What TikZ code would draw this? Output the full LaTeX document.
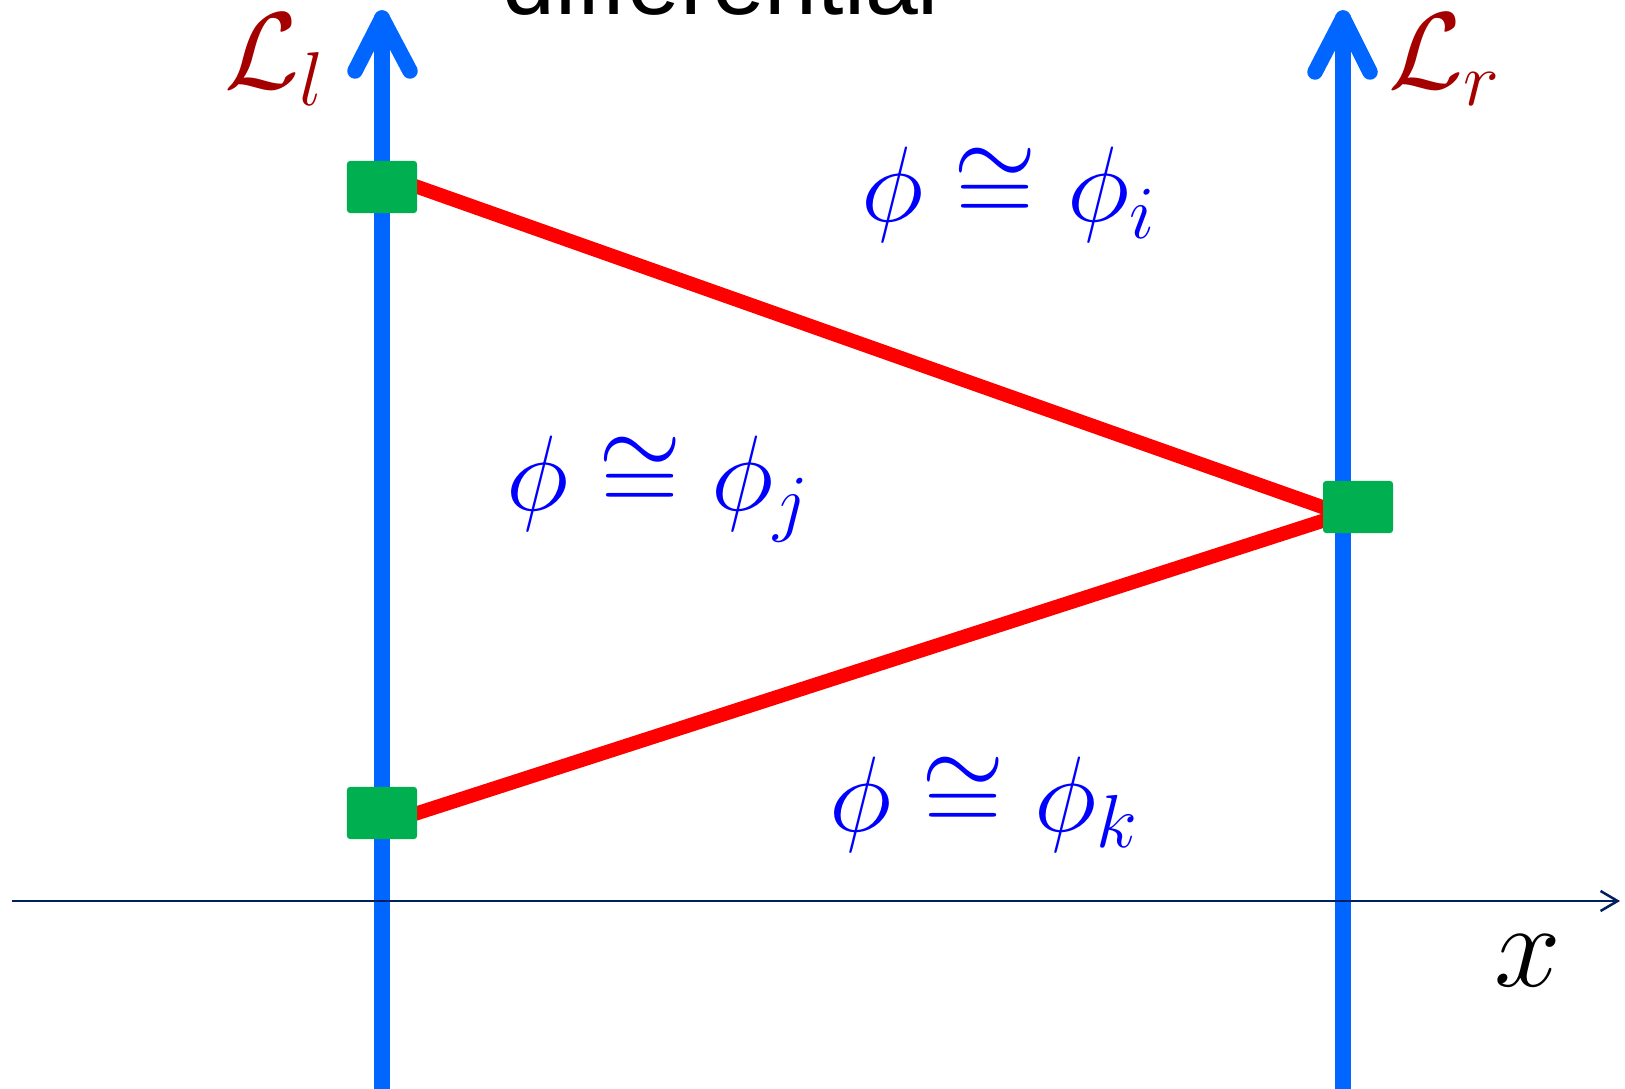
\RequirePackage{fix-cm}
\documentclass[tikz,border=0pt]{standalone}
\usepackage{fontspec}
\newfontfamily\titlefont{Liberation Sans}
\usetikzlibrary{arrows.meta,calc,backgrounds}
\definecolor{wallblue}{RGB}{0,102,255}
\definecolor{ptgreen}{RGB}{0,176,80}
\definecolor{labred}{RGB}{165,0,0}
\definecolor{axisnavy}{RGB}{0,32,96}

\begin{document}
\begin{tikzpicture}[
  x=0.01cm, y=-0.01cm,
  wall/.style={wallblue, line width=0.155cm, line cap=round, line join=round},
  link/.style={red, line width=0.14cm, shorten <=-0.05cm, shorten >=-0.05cm},
  pt/.style={rectangle, fill=ptgreen, minimum width=0.7cm, minimum height=0.52cm,
             rounded corners=0.03cm, inner sep=0pt},
  approx/.style={blue, font=\fontsize{30.5}{36}\selectfont, anchor=base, inner sep=0pt},
  lab/.style={labred, font=\fontsize{31}{37}\selectfont, anchor=base, inner sep=0pt}
]
  \useasboundingbox (0,0) rectangle (1625,1089);

  \node[pt] (ltop) at (382,187) {};
  \node[pt] (lbot) at (382,813) {};
  \node[pt] (rmid) at (1358,507) {};

  \coordinate (ltip) at (382,18);
  \coordinate (rtip) at (1343,18);
  \coordinate (lfoot) at (382,1089);
  \coordinate (rfoot) at (1343,1089);
  \coordinate (rin) at ($(rmid.west)+(0,14)$);
  \coordinate (xstart) at (12,901);
  \coordinate (xend) at (1620,901);

  % Interfaces
  \begin{pgfonlayer}{background}
    \draw[wall] (lfoot) -- (ltip);
    \draw[wall] (ltip) ++(-27,53) -- (ltip) -- ++(28,53);
    \draw[wall] (rfoot) -- (rtip);
    \draw[wall] (rtip) ++(-28,54) -- (rtip) -- ++(27,54);

    % Liens
    \draw[link] (ltop.east) -- (rmid.west);
    \draw[link] (lbot.east) -- (rin);
  \end{pgfonlayer}

  % Axe
  \draw[axisnavy, line width=0.025cm, -{Straight Barb[length=0.17cm, width=0.2cm]}]
    (xstart) -- (xend);

  % Labels
  \node[approx] (phii) at (1009,222) {$\phi \cong \phi_i$};
  \node[approx] (phij) at (658,511) {$\phi \cong \phi_j$};
  \node[approx] (phik) at (984,831) {$\phi \cong \phi_k$};
  \node[lab] (Ll) at (275,89) {$\mathcal{L}_l$};
  \node[lab] (Lr) at (1445,89) {$\mathcal{L}_r$};
  \node[font=\fontsize{34}{40}\selectfont, anchor=base, inner sep=0pt] (xlab) at (1528,986) {$x$};
  \node[font=\titlefont\fontsize{27}{32}\selectfont, anchor=base west, inner sep=0pt] (title)
    at (502,15) {differential};
\end{tikzpicture}
\end{document}
